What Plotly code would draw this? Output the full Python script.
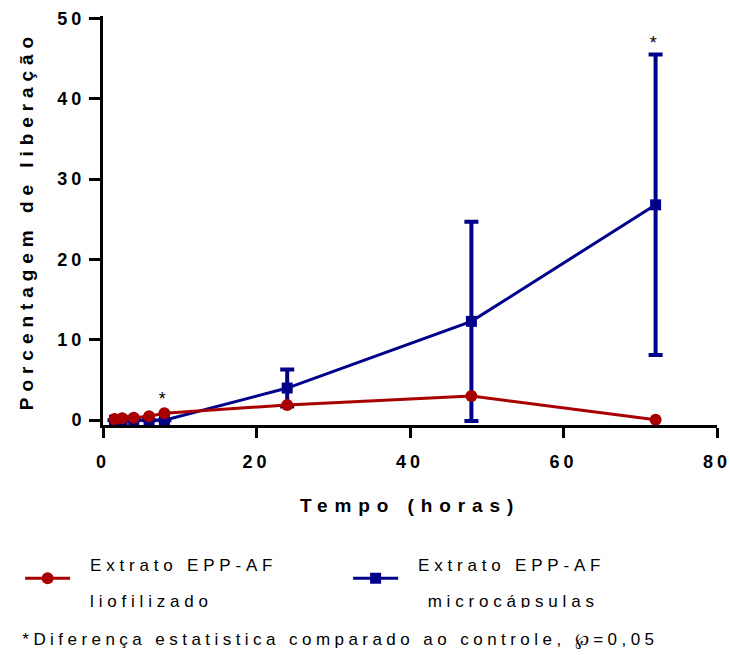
import plotly.graph_objects as go

# Data
tempo = [1.5, 2.5, 4, 6, 8, 24, 48, 72]
liofilizado = [0.15, 0.25, 0.3, 0.5, 0.85, 1.9, 3.0, 0.05]
microcapsulas = [0, 0, 0, 0, 0, 4.0, 12.3, 26.8]
microcapsulas_sd = [0, 0, 0, 0, 0, 2.3, 12.4, 18.7]
asterisk_x = [8, 72]
asterisk_y = [2.6, 47.0]

RED = "#A80000"
BLUE = "#00008B"
FONT = "Liberation Sans, Arial, sans-serif"

fig = go.Figure()
fig.add_trace(go.Scatter(
    x=tempo, y=microcapsulas, mode="lines+markers",
    name="Extrato EPP-AF<br> microcápsulas",
    line=dict(color=BLUE, width=3),
    marker=dict(symbol="square", size=11, color=BLUE),
    error_y=dict(type="data", array=microcapsulas_sd, visible=True,
                 color=BLUE, thickness=4, width=7),
))
fig.add_trace(go.Scatter(
    x=tempo, y=liofilizado, mode="lines+markers",
    name="Extrato EPP-AF<br>liofilizado",
    line=dict(color=RED, width=3),
    marker=dict(symbol="circle", size=12, color=RED),
))

for ax, ay in zip(asterisk_x, asterisk_y):
    fig.add_annotation(x=ax, y=ay, xref="x", yref="y", text="*", showarrow=False,
                       font=dict(size=18, color="black", family=FONT))

fig.add_annotation(x=0.386, y=-0.526, xref="paper", yref="paper", xanchor="center", yanchor="middle",
                   text="*Diferença estatistica comparado ao controle, ℘=0,05", showarrow=False,
                   font=dict(size=17, color="black", family=FONT))

fig.update_layout(
    width=730, height=655,
    margin=dict(l=103, r=13, t=16, b=230),
    plot_bgcolor="white", paper_bgcolor="white",
    font=dict(family=FONT, color="black"),
    legend=dict(orientation="h", x=-0.135, y=-0.305, xanchor="left", yanchor="top",
                traceorder="reversed", entrywidth=268, entrywidthmode="pixels",
                itemwidth=45,
                font=dict(size=17, family=FONT, color="black")),
    xaxis=dict(range=[0, 80], dtick=20, showline=True, linewidth=3, linecolor="black",
               ticks="outside", ticklen=10, tickwidth=3, tickcolor="black",
               showgrid=False, zeroline=False, automargin=False, ticklabelstandoff=8,
               tickfont=dict(size=18, family=FONT, weight="bold"),
               title=dict(text="Tempo (horas)", standoff=29,
                          font=dict(size=19, family=FONT, weight="bold"))),
    yaxis=dict(range=[-0.6, 50.3], dtick=10, showline=True, linewidth=3, linecolor="black",
               ticks="outside", ticklen=11, tickwidth=3, tickcolor="black",
               showgrid=False, zeroline=False, automargin=False,
               tickfont=dict(size=18, family=FONT, weight="bold"),
               title=dict(text="Porcentagem de liberação", standoff=27,
                          font=dict(size=19, family=FONT, weight="bold"))),
)

post = """
document.body.style.margin = '0';
document.body.style.padding = '0';
var gd = document.getElementById('{plot_id}');
function ls(sel, v){ gd.querySelectorAll(sel).forEach(function(e){ e.style.letterSpacing = v; }); }
function spread(){
  gd.querySelectorAll('.legendtext').forEach(function(t){
    var lines = t.querySelectorAll('tspan.line');
    if (lines.length < 2) return;
    if (!t.hasAttribute('data-spread')) {
      for (var i = 1; i < lines.length; i++) {
        var dy = lines[i].getAttribute('dy');
        if (dy && dy.indexOf('em') > 0) {
          lines[i].setAttribute('dy', (parseFloat(dy) * 35 / 22) + 'em');
        } else if (lines[i].hasAttribute('y')) {
          var y0 = parseFloat(lines[0].getAttribute('y') || t.getAttribute('y') || 0);
          var yi = parseFloat(lines[i].getAttribute('y'));
          lines[i].setAttribute('y', y0 + (yi - y0) * 35 / 22);
        }
      }
      t.setAttribute('transform', 'translate(15,-2.5)');
      t.setAttribute('data-spread', '1');
    }
  });
}
function apply(){
  ls('.xtick text', '4px'); ls('.ytick text', '4px');
  ls('.xtitle', '6.9px'); ls('.ytitle', '5.95px');
  ls('.legendtext', '4.8px'); ls('.annotation-text', '4.45px');
  spread();
}
apply();
gd.on('plotly_afterplot', apply);
"""
fig.write_html("out.html", post_script=post, config={"displayModeBar": False})
